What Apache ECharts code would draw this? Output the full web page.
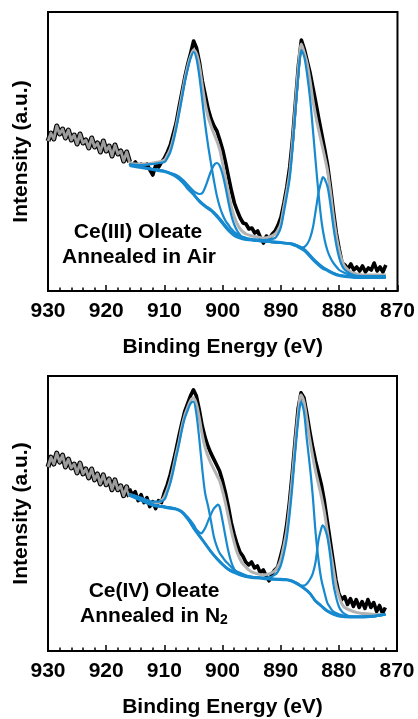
<!DOCTYPE html>
<html><head><meta charset="utf-8">
<script src="https://cdn.jsdelivr.net/npm/echarts/dist/echarts.min.js"></script>
<style>html,body{margin:0;padding:0;background:#fff}#c{width:418px;height:719px}</style>
</head><body><div id="c"></div><script>
// ---- Data: [binding energy (eV), intensity (a.u.)] ----
const topNoise = [[930,150],[929.5,158],[929,152],[928.5,165],[928,157],[927.5,162],[927,153],[926.5,161],[926,151],[925.5,156],[925,147],[924.5,157],[924,148],[923.5,151],[923,143],[922.5,153],[922,144],[921.5,148],[921,139],[920.5,150],[920,140],[919.5,145],[919,135],[918.5,146],[918,137],[917.5,140],[917,130],[916.5,139],[916,129]];
const topData = [[916,128],[915.5,126],[915,129],[914.5,125],[914,127],[913.5,124],[913,127],[912.5,121],[912,116],[911.5,126],[911,124],[910.5,129],[910,133],[909.5,139],[909,146],[908.5,157],[908,168],[907.5,184],[907,199],[906.5,214],[906,227],[905.5,238],[905,250],[904.5,243],[904,229],[903.5,210],[903,196],[902.5,182],[902,172],[901.5,165],[901,160],[900.5,151],[900,141],[899.5,128],[899,114],[898.5,100],[898,88],[897.5,80],[897,73],[896.5,68],[896,67],[895.5,62],[895,63],[894.5,58],[894,60],[893.5,53],[893,48],[892.5,55],[892,52],[891.5,57],[891,60],[890.5,66],[890,74],[889.5,88],[889,104],[888.5,124],[888,153],[887.5,190],[887,226],[886.5,251],[886,242],[885.5,230],[885,218],[884.5,203],[884,188],[883.5,172],[883,157],[882.5,142],[882,126],[881.5,104],[881,80],[880.5,58],[880,42],[879.5,28],[879,26],[878.5,22],[878,27],[877.5,21],[877,24],[876.5,20],[876,25],[875.5,19],[875,23],[874.5,21],[874,28],[873.5,20],[873,24],[872.5,19],[872,26]];
const topEnvelope = [[916,128],[915,127],[914,127],[913,127],[912,128],[911,129],[910,131],[909.5,136],[909,142],[908.5,152],[908,165],[907.5,180],[907,196],[906.5,212],[906,225],[905.5,235],[905,241],[904.5,237],[904,225],[903.5,205],[903,187],[902.5,174],[902,165],[901.5,157],[901,150],[900.5,141],[900,127],[899.5,112],[899,97],[898.5,84],[898,74],[897.5,67],[897,62],[896.5,59],[896,57],[895,55],[894,54],[893,53],[892,54],[891,57],[890.5,61],[890,68],[889.5,84],[889,100],[888.5,118],[888,150],[887.5,188],[887,224],[886.5,247],[886,238],[885.5,227],[885,210],[884.5,190],[884,174],[883.5,160],[883,147],[882.5,134],[882,120],[881.5,99],[881,75],[880.5,55],[880,40],[879.5,30],[879,24],[878,19],[877,17],[876,16],[874,16],[872,16]];
const topBackground = [[916,125],[914,123],[912,121],[910,119],[909,117],[908,114],[907,109],[906,102],[905,96],[904,89],[903,84],[902,80],[901,74],[900,67],[899,60],[898,55],[897,52.5],[896,51],[894,50],[892,49],[890,48],[888.5,47],[887.5,45],[887,43.5],[886,40],[885,34],[884,28],[883,23],[882,20],[881,17],[880,15],[879,14],[878,13.5],[876,13],[872,13]];
const topPeak1 = [[916,127],[914,126],[912,127],[911,128],[910,129],[909.5,133],[909,139],[908.5,149],[908,162],[907.5,177],[907,193],[906.5,209],[906,222],[905.5,233],[905,239],[904.5,232],[904,214],[903.5,190],[903,166],[902.5,145],[902,127],[901.5,110],[901,95],[900.5,84],[900,76],[899.5,70],[899,66],[898.5,62],[898,59],[897.5,57],[897,55],[896,53],[895,51],[894,50],[892,49],[890,48],[888,47],[887,45],[886,42],[885,36],[884,30],[883,25],[882,21],[881,18],[880,16],[878,15],[876,14],[872,14]];
const topPeak2 = [[916,126],[914,124],[912,122],[910,120],[909,118],[908,116],[907,112],[906,106],[905,100],[904.5,98],[904,97],[903.5,98],[903,104],[902.5,112],[902,120],[901.5,126],[901,128],[900.5,125],[900,116],[899.5,103],[899,88],[898.5,75],[898,66],[897.5,60],[897,56],[896.5,53],[896,52],[895,51],[894,50],[892,49],[890,48],[888,47],[887,44.5],[886,41],[885,35],[884,29],[883,24],[882,21],[881,18],[880,16],[878,14.5],[876,14],[872,14]];
const topPeak3 = [[916,126],[912,122],[910,120],[908,115],[907,110],[906,103],[905,97],[904,90.5],[903,85.5],[902,81.5],[901,76],[900,69],[899,62],[898,57],[897,54.5],[896,53],[895,52],[894,51.5],[893,51],[892,51.5],[891,53],[890.5,57],[890,64],[889.5,79],[889,95],[888.5,113],[888,144],[887.5,182],[887,217],[886.5,241],[886,234],[885.5,216],[885,192],[884.5,160],[884,126],[883.5,94],[883,68],[882.5,51],[882,40],[881.5,33],[881,28],[880,21],[879,18],[878,16],[876,15],[872,15]];
const topPeak4 = [[916,126],[912,122],[910,120],[908,115],[907,110],[906,103],[905,97],[904,90],[903,85],[902,81],[901,75],[900,68],[899,61],[898,56],[897,53.5],[896,52],[894,51],[892,50],[890,49],[889,48],[888,47.5],[887,45],[886.5,43.5],[886,44],[885.5,47],[885,53],[884.5,64],[884,82],[883.5,100],[883,111],[882.8,114],[882.5,112],[882,104],[881.5,86],[881,64],[880.5,46],[880,33],[879.5,25],[879,21],[878,17],[877,15],[876,14.5],[872,14]];

const botNoise = [[930,186],[929.5,196],[929,189],[928.5,200],[928,191],[927.5,198],[927,186],[926.5,194],[926,185],[925.5,189],[925,180],[924.5,190],[924,179],[923.5,184],[923,175],[922.5,184],[922,173],[921.5,179],[921,169],[920.5,178],[920,168],[919.5,174],[919,163],[918.5,173],[918,163],[917.5,167],[917,157],[916.5,166],[916,156]];
const botData = [[916,164],[915.5,158],[915,161],[914.5,152],[914,158],[913.5,150],[913,155],[912.5,146],[912,151],[911.5,144],[911,152],[910.5,150],[910,160],[909.5,168],[909,178],[908.5,190],[908,203],[907.5,217],[907,230],[906.5,242],[906,250],[905.5,258],[905,264],[904.5,258],[904,244],[903.5,228],[903,216],[902.5,207],[902,200],[901.5,194],[901,188],[900.5,182],[900,172],[899.5,160],[899,146],[898.5,130],[898,118],[897.5,108],[897,100],[896.5,96],[896,90],[895.5,87],[895,90],[894.5,84],[894,86],[893.5,79],[893,82],[892.5,76],[892,71],[891.5,78],[891,82],[890.5,85],[890,96],[889.5,108],[889,126],[888.5,150],[888,180],[887.5,214],[887,245],[886.5,261],[886,256],[885.5,240],[885,222],[884.5,206],[884,192],[883.5,180],[883,168],[882.5,152],[882,132],[881.5,112],[881,92],[880.5,72],[880,58],[879.5,52],[879,55],[878.5,47],[878,53],[877.5,45],[877,52],[876.5,44],[876,50],[875.5,43],[875,52],[874.5,44],[874,49],[873.5,40],[873,46],[872.5,38],[872,44]];
const botEnvelope = [[916,158],[915,156],[914,154],[913,152],[912,150],[911.5,149],[911,150],[910.5,152],[910,156],[909.5,163],[909,172],[908.5,184],[908,198],[907.5,211],[907,226],[906.5,238],[906,246],[905.5,253],[905,256],[904.5,250],[904,236],[903.5,219],[903,206],[902.5,197],[902,190],[901.5,184],[901,178],[900.5,172],[900,162],[899.5,150],[899,136],[898.5,122],[898,110],[897.5,100],[897,93],[896.5,88],[896,85],[895.5,82],[895,80],[894,78],[893,77],[892,78],[891,81],[890.5,85],[890,92],[889.5,105],[889,120],[888.5,145],[888,175],[887.5,210],[887,240],[886.5,259],[886,252],[885.5,234],[885,214],[884.5,197],[884,182],[883.5,169],[883,156],[882.5,141],[882,122],[881.5,103],[881,85],[880.5,67],[880,56],[879.5,48],[879,44],[878,41],[877,39],[876,38],[874,37],[872,37]];
const botBackground = [[916,157],[914,152],[912,147],[910,145],[909,144],[908,143],[907,140],[906,133],[905.5,129],[905,124],[904,116],[903,108],[902,100],[901,93],[900,87],[899,82],[898,79],[897,76.5],[896,75],[895,74],[893,73],[891,72],[889,71.5],[888,70],[887,67],[886,63],[885,58],[884.5,54],[884,50],[883,45],[882,40],[881,37],[880,35],[878,34],[876,34],[874,35],[872,37]];
const botPeak1 = [[916,159],[914,155],[912,151],[911,151],[910,153],[909.5,160],[909,169],[908.5,181],[908,195],[907.5,208],[907,223],[906.5,235],[906,243],[905.5,250],[905,252],[904.5,240],[904,215],[903.5,185],[903,160],[902.5,147],[902,132],[901.5,116],[901,106],[900.5,99],[900,95],[899.5,91],[899,88],[898,82],[897,79],[896,76.5],[895,75],[893,74],[891,73],[889,72.5],[888,71],[887,68],[886,64],[885,59],[884,51],[883,46],[882,41],[881,38],[880,36],[878,35],[876,35],[874,35.5],[872,37.5]];
const botPeak2 = [[916,158],[912,148],[910,146],[908,144],[907,141.5],[906,135.5],[905,128],[904.5,123],[904,120],[903.7,119],[903.5,119.5],[903,124],[902.5,131],[902,138],[901.5,144],[901,147],[900.8,148],[900.5,146],[900,132],[899.5,116],[899,101],[898.5,90],[898,83],[897.5,79],[897,77.5],[896,75.5],[895,74.5],[893,73.5],[891,72.5],[889,72],[888,70.5],[887,67.5],[886,63.5],[885,58.5],[884,50.5],[883,45.5],[882,40.5],[881,37.5],[880,35.5],[878,34.5],[876,34.5],[874,35],[872,37]];
const botPeak3 = [[916,158],[912,148],[910,146],[908,143.5],[907,140.5],[906,134],[905,125],[904,117],[903,109],[902,101],[901,94],[900,88],[899,83],[898,80],[897,77.5],[896,76],[895,75],[894,74.5],[893,74],[892,74.5],[891,77],[890.5,80],[890,86],[889.5,97],[889,112],[888.5,136],[888,166],[887.5,201],[887,232],[886.5,252],[886,242],[885.5,214],[885,188],[884.5,158],[884,120],[883.5,92],[883,72],[882.5,60],[882,49],[881.5,44],[881,40],[880,37],[879,35.5],[878,34.5],[876,34.5],[874,35],[872,37]];
const botPeak4 = [[916,158],[912,148],[910,146],[908,143.5],[907,140.5],[906,134],[905,125],[904,117],[903,109],[902,101],[901,94],[900,88],[899,83],[898,80],[897,77],[896,75.5],[894,74.5],[892,73.5],[890,72.5],[889,72],[888,71],[887,68],[886.5,66],[886,66],[885.5,68],[885,72],[884.5,78],[884,90],[883.5,112],[883,124],[882.8,127],[882.5,125],[882,116],[881.5,97],[881,70],[880.5,55],[880,45],[879.5,40],[879,37.5],[878,35],[876,34.5],[874,35],[872,37]];

const xTicks = [930, 920, 910, 900, 890, 880, 870];
const panelLabels = [["Ce(III) Oleate", "Annealed in Air"], ["Ce(IV) Oleate", "Annealed in N"]];

// ---- Styling ----
const FONT = "'Liberation Sans', Arial, Helvetica, sans-serif";
const BLUE = '#1689cf';
const GREY = '#b3b3b3';
const txt = {color:'#000', fontSize:21, fontWeight:'bold', fontFamily:FONT};

const grids = [
  {left:48, top:12, width:350, height:279, show:true, borderColor:'#000', borderWidth:2},
  {left:48, top:376, width:349, height:278, show:true, borderColor:'#000', borderWidth:2}
];
const yMax = [279, 278];

function xAxis(gi){
  return {type:'value', gridIndex:gi, min:xTicks[xTicks.length-1], max:xTicks[0], interval:10, inverse:true,
    axisLine:{show:true, lineStyle:{color:'#000', width:2}},
    axisTick:{show:true, inside:true, length:6, lineStyle:{color:'#000', width:1.5}},
    minorTick:{show:true, splitNumber:5, length:3.5, lineStyle:{color:'#000', width:1.5}},
    axisLabel:Object.assign({margin:10}, txt),
    splitLine:{show:false}, minorSplitLine:{show:false},
    name:'Binding Energy (eV)', nameLocation:'middle', nameGap:46, nameTextStyle:txt};
}
function yAxis(gi){
  return {type:'value', gridIndex:gi, min:0, max:yMax[gi],
    axisLine:{show:false}, axisTick:{show:false}, axisLabel:{show:false}, splitLine:{show:false},
    name:'Intensity (a.u.)', nameLocation:'middle', nameGap:16, nameTextStyle:txt};
}
function line(data, gi, color, width, z, smooth){
  return {type:'line', data:data, xAxisIndex:gi, yAxisIndex:gi, symbol:'none', showSymbol:false,
    smooth:smooth, z:z, clip:true, silent:true,
    lineStyle:{color:color, width:width, join:'round'}};
}
const series = [];
[[topNoise, topData, topEnvelope, [topBackground, topPeak1, topPeak2, topPeak3, topPeak4]],
 [botNoise, botData, botEnvelope, [botBackground, botPeak1, botPeak2, botPeak3, botPeak4]]]
.forEach(function(p, gi){
  series.push(line(p[0], gi, '#000', 5, 2, false));
  series.push(line(p[0], gi, '#9c9c9c', 2.8, 3, false));
  series.push(line(p[1], gi, '#000', 3.6, 4, false));
  series.push(line(p[2], gi, GREY, 3, 5, 0.3));
  p[3].forEach(function(c){ series.push(line(c, gi, BLUE, 2.2, 6, 0.3)); });
});

const chart = echarts.init(document.getElementById('c'), null, {renderer:'canvas'});
chart.setOption({
  animation:false,
  backgroundColor:'#fff',
  grid:grids,
  xAxis:[xAxis(0), xAxis(1)],
  yAxis:[yAxis(0), yAxis(1)],
  series:series,
  graphic:[
    {type:'text', z:100, style:{text:panelLabels[0][0], x:138, y:232, font:'bold 21px '+FONT, fill:'#000', align:'center', verticalAlign:'middle', textAlign:'center', textVerticalAlign:'middle'}},
    {type:'text', z:100, style:{text:panelLabels[0][1], x:139, y:257, font:'bold 21px '+FONT, fill:'#000', align:'center', verticalAlign:'middle', textAlign:'center', textVerticalAlign:'middle'}},
    {type:'text', z:100, style:{text:panelLabels[1][0], x:154, y:591, font:'bold 21px '+FONT, fill:'#000', align:'center', verticalAlign:'middle', textAlign:'center', textVerticalAlign:'middle'}},
    {type:'text', z:100, style:{text:'{a|'+panelLabels[1][1]+'}{b|2}', x:154, y:615, align:'center', verticalAlign:'middle', textAlign:'center', textVerticalAlign:'middle',
      rich:{a:{font:'bold 21px '+FONT, fill:'#000', verticalAlign:'bottom', lineHeight:24},
            b:{font:'bold 14px '+FONT, fill:'#000', verticalAlign:'bottom', lineHeight:14}}}}
  ]
});
</script></body></html>
